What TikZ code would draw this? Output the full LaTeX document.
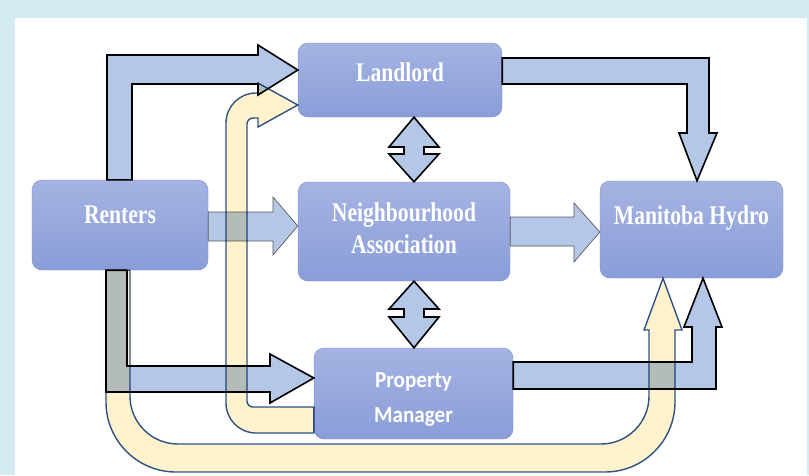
\documentclass[tikz,border=0pt]{standalone}
\usepackage{fontspec}
\usepackage{graphicx}
\setmainfont{Liberation Serif}
\newfontfamily\pmfont{Carlito}
\definecolor{framecolor}{HTML}{D4EAF1}
\definecolor{boxtop}{HTML}{A5B3E2}
\definecolor{boxbottom}{HTML}{8A9DD8}
\definecolor{boxline}{HTML}{7A8FD0}
\definecolor{flowfill}{HTML}{B4C7E7}
\definecolor{loopfill}{HTML}{FFF2CC}
\definecolor{loopline}{HTML}{2F5597}
\newcommand{\boxlabel}[3]{\raisebox{#1}[0pt][0pt]{\scalebox{#2}[1]{\begin{tabular}[b]{@{}c@{}}#3\end{tabular}}}}

\begin{document}
\begin{tikzpicture}[x=1pt,y=-1pt,
 box/.style={draw=boxline,top color=boxtop,bottom color=boxbottom,
             rounded corners=10pt,inner sep=0pt,text=white,
             font=\bfseries\fontsize{27}{32}\selectfont},
 flow/.style={draw=black,line width=1.6pt,fill=flowfill},
 thinflow/.style={draw=black!65,line width=0.7pt,fill=flowfill},
 loopflow/.style={draw=loopline,line width=1.4pt,fill=loopfill,blend mode=multiply}]
 \useasboundingbox (0,0) rectangle (809,475);
 \fill[framecolor] (0,0) rectangle (809,475);
 \fill[white] (15,18) rectangle (807,475);
 % the five parties
 \node[box,minimum width=204pt,minimum height=74pt] (landlord) at (400,80)
   {\boxlabel{-1pt}{0.8}{Landlord}};
 \node[box,minimum width=212pt,minimum height=99pt] (assoc) at (404,231.5)
   {\boxlabel{-21.5pt}{0.8}{Neighbourhood\\Association}};
 \node[box,minimum width=176pt,minimum height=90pt] (renters) at (120,225)
   {\boxlabel{2pt}{0.8}{Renters}};
 \node[box,minimum width=183pt,minimum height=97pt] (hydro) at (691.5,229.5)
   {\boxlabel{5.5pt}{0.8}{Manitoba Hydro}};
 \node[box,minimum width=199pt,minimum height=91pt,
       font=\pmfont\bfseries\fontsize{23}{35}\selectfont] (manager) at (413.5,393.5)
   {\boxlabel{-28.5pt}{0.92}{Property\\Manager}};
 % block arrows
 \draw[flow] (renters.north -| 107,0) -- (107,55) -- (258,55) -- (258,45)
   -- (landlord.west |- 0,70) -- (258,95) -- (258,84) -- (132,84)
   -- (renters.north -| 132,0) -- cycle;
 \draw[flow] (landlord.east |- 0,58) -- (709,58) -- (709,133) -- (717,133)
   -- (hydro.north -| 697,0) -- (679,133) -- (687,133) -- (687,84)
   -- (landlord.east |- 0,84) -- cycle;
 \draw[flow] (manager.east |- 0,362) -- (692,362) -- (692,327) -- (684,327)
   -- (hydro.south -| 703,0) -- (722,327) -- (716,327) -- (716,389)
   -- (manager.east |- 0,389) -- cycle;
 \draw[flow] (renters.south -| 106,0) -- (106,392) -- (270,392) -- (270,403)
   -- (manager.west |- 0,378) -- (270,354) -- (270,366) -- (127,366)
   -- (renters.south -| 127,0) -- cycle;
 \draw[thinflow] (renters.east |- 0,212) -- (273,212) -- (273,197)
   -- (assoc.west |- 0,226) -- (273,255) -- (273,241)
   -- (renters.east |- 0,241) -- cycle;
 \draw[thinflow] (assoc.east |- 0,217) -- (574,217) -- (574,203)
   -- (hydro.west |- 0,232) -- (574,262) -- (574,246)
   -- (assoc.east |- 0,246) -- cycle;
 % two-way links
 \draw[flow] (landlord.south -| 414,0) -- (439,147) -- (424,147) -- (424,154)
   -- (439,154) -- (assoc.north -| 414,0) -- (389,154) -- (404,154)
   -- (404,147) -- (389,147) -- cycle;
 \draw[flow] (assoc.south -| 414,0) -- (439,309) -- (424,309) -- (424,317)
   -- (439,317) -- (manager.north -| 414,0) -- (389,317) -- (404,317)
   -- (404,309) -- (389,309) -- cycle;
 % curved feedback arrows
 \draw[loopflow] (renters.south -| 106,0) -- (106,402)
   arc[start angle=180,end angle=90,radius=70] -- (605,472)
   arc[start angle=90,end angle=0,radius=70] -- (675,330) -- (682,330)
   -- (hydro.south -| 663,0) -- (644,330) -- (649,330) -- (649,396)
   arc[start angle=0,end angle=90,radius=48] -- (178,444)
   arc[start angle=90,end angle=180,radius=48]
   -- (renters.south -| 130,0) -- cycle;
 \draw[loopflow] (manager.west |- 0,407) -- (253,407)
   arc[start angle=90,end angle=180,radius=6] -- (247,124)
   arc[start angle=180,end angle=270,radius=6] -- (258,118) -- (258,127)
   -- (landlord.west |- 0,105) -- (258,83) -- (258,93) -- (256,93)
   arc[start angle=270,end angle=180,radius=30] -- (226,403)
   arc[start angle=180,end angle=90,radius=30]
   -- (manager.west |- 0,433) -- cycle;
\end{tikzpicture}
\end{document}
